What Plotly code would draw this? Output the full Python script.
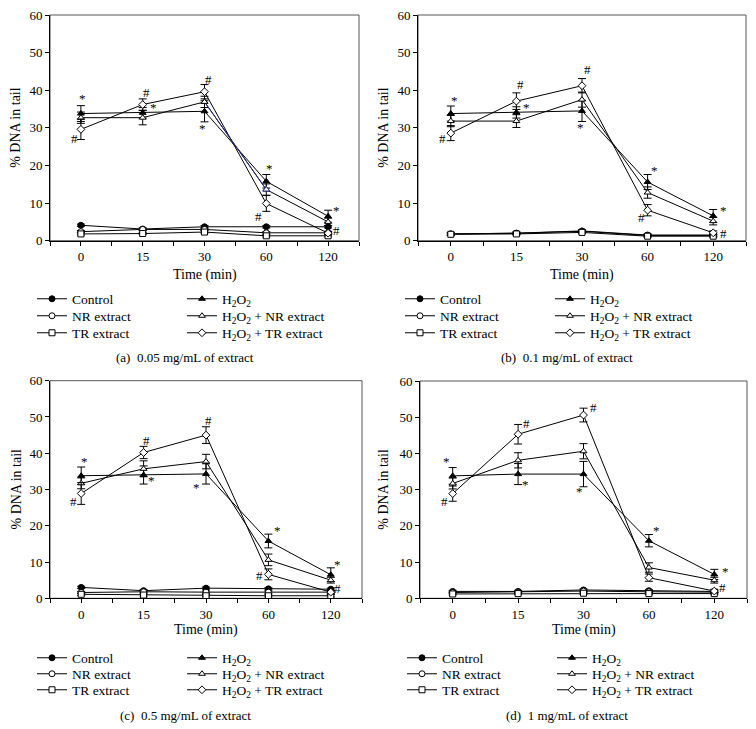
import plotly.graph_objects as go

# ---------------- data ----------------
TIME_LABELS = ["0", "15", "30", "60", "120"]
SERIES = ["Control", "NR extract", "TR extract",
          "H<sub>2</sub>O<sub>2</sub>",
          "H<sub>2</sub>O<sub>2</sub> + NR extract",
          "H<sub>2</sub>O<sub>2</sub> + TR extract"]
CAPTIONS = ["(a)  0.05 mg/mL of extract", "(b)  0.1 mg/mL of extract",
            "(c)  0.5 mg/mL of extract", "(d)  1 mg/mL of extract"]

# panel (a) 0.05 mg/mL
a_control = [4.1, 3.1, 3.7, 3.7, 3.7]
a_nr = [2.4, 3.0, 3.0, 2.1, 2.1]
a_tr = [1.8, 1.9, 2.3, 1.3, 1.3]
a_h2o2 = [33.8, 34.0, 34.4, 15.8, 6.5]
a_h2o2_nr = [32.7, 32.7, 36.9, 13.6, 5.0]
a_h2o2_tr = [29.6, 36.2, 39.6, 9.9, 2.0]
a_err_h2o2 = [2.1, 1.4, 2.8, 1.8, 1.6]
a_err_h2o2_nr = [1.5, 1.9, 1.5, 1.5, 1.0]
a_err_h2o2_tr = [2.7, 1.5, 1.9, 2.1, 0.5]

# panel (b) 0.1 mg/mL
b_control = [1.8, 2.0, 2.6, 1.5, 1.5]
b_nr = [1.8, 2.0, 2.5, 1.4, 1.4]
b_tr = [1.7, 1.8, 2.2, 1.2, 1.2]
b_h2o2 = [33.8, 34.1, 34.5, 15.6, 6.6]
b_h2o2_nr = [31.8, 31.8, 37.5, 12.8, 5.2]
b_h2o2_tr = [28.6, 37.1, 41.2, 8.1, 2.1]
b_err_h2o2 = [2.0, 1.5, 2.8, 2.0, 1.7]
b_err_h2o2_nr = [1.5, 1.7, 2.0, 1.5, 1.0]
b_err_h2o2_tr = [2.0, 2.2, 1.9, 1.5, 0.5]

# panel (c) 0.5 mg/mL
c_control = [3.0, 2.1, 2.8, 2.6, 2.5]
c_nr = [1.6, 1.8, 1.7, 1.7, 1.7]
c_tr = [1.1, 0.9, 0.7, 0.7, 0.7]
c_h2o2 = [33.8, 34.0, 34.3, 15.8, 6.5]
c_h2o2_nr = [31.7, 35.7, 37.7, 10.6, 5.0]
c_h2o2_tr = [28.9, 40.2, 45.0, 6.6, 1.7]
c_err_h2o2 = [2.4, 2.5, 2.8, 1.9, 1.9]
c_err_h2o2_nr = [1.5, 2.2, 2.0, 1.6, 0.8]
c_err_h2o2_tr = [3.0, 1.7, 2.3, 1.5, 0.5]

# panel (d) 1 mg/mL
d_control = [1.9, 1.9, 2.3, 2.1, 1.9]
d_nr = [1.6, 1.7, 2.0, 1.8, 1.7]
d_tr = [1.2, 1.3, 1.4, 1.3, 1.3]
d_h2o2 = [33.8, 34.3, 34.3, 15.9, 6.6]
d_h2o2_nr = [31.7, 38.1, 40.6, 8.5, 5.0]
d_h2o2_tr = [28.9, 45.3, 50.6, 5.7, 2.0]
d_err_h2o2 = [2.3, 2.9, 3.5, 1.7, 1.4]
d_err_h2o2_nr = [1.5, 2.1, 2.1, 1.3, 0.8]
d_err_h2o2_tr = [2.1, 2.7, 1.9, 1.0, 0.5]

LOW_ERR = [0.3, 0.3, 0.3, 0.3, 0.3]

# significance marks: (symbol, time index, y value)
a_marks = [("*", 0, 37.8), ("#", 0, 27.2), ("#", 1, 39.3), ("*", 1, 35.4), ("#", 2, 42.8),
           ("*", 2, 29.8), ("*", 3, 19.1), ("#", 3, 6.5), ("*", 4, 8.1), ("#", 4, 2.6)]
b_marks = [("*", 0, 37.3), ("#", 0, 27.3), ("#", 1, 41.5), ("*", 1, 35.5), ("#", 2, 45.5),
           ("*", 2, 30.1), ("*", 3, 18.6), ("#", 3, 6.2), ("*", 4, 8.1), ("#", 4, 1.9)]
c_marks = [("*", 0, 37.7), ("#", 0, 26.8), ("#", 1, 43.4), ("*", 1, 32.6), ("#", 2, 48.9),
           ("*", 2, 30.5), ("*", 3, 18.7), ("#", 3, 6.4), ("*", 4, 9.2), ("#", 4, 2.6)]
d_marks = [("*", 0, 37.7), ("#", 0, 26.7), ("#", 1, 48.3), ("*", 1, 31.3), ("#", 2, 52.6),
           ("*", 2, 29.4), ("*", 3, 18.7), ("*", 4, 7.5), ("#", 4, 2.9)]
# horizontal offsets (in category units) for each mark, same order as above
a_dx = [0.03, -0.11, 0.06, 0.17, 0.06, -0.04, 0.05, -0.13, 0.14, 0.14]
b_dx = [0.05, -0.13, 0.06, 0.15, 0.08, -0.03, 0.10, -0.10, 0.16, 0.16]
c_dx = [0.06, -0.13, 0.05, 0.12, 0.04, -0.15, 0.14, -0.14, 0.11, 0.11]
d_dx = [-0.09, -0.13, 0.13, 0.11, 0.15, -0.06, 0.11, 0.17, 0.13]

# ---------------- layout geometry ----------------
# the page body has an 8 px margin at top/left, so the figure is placed 8 px
# in and all window-pixel positions below are shifted by that margin.
WIN_W, WIN_H, PAD = 756, 729, 8
W, H = WIN_W - PAD, WIN_H - PAD
FONT = "Liberation Serif"


def px(x):
    return (x - PAD) / W


def py(y):
    return 1 - (y - PAD) / H


panels = [
    dict(data=[a_control, a_nr, a_tr, a_h2o2, a_h2o2_nr, a_h2o2_tr],
         err=[LOW_ERR, LOW_ERR, LOW_ERR, a_err_h2o2, a_err_h2o2_nr, a_err_h2o2_tr],
         marks=a_marks, dx=a_dx, box=(50, 359, 15, 240.7), ytitle_x=16,
         leg_x=32, rows=(299, 316, 333), cap=(185, 357), xt=275),
    dict(data=[b_control, b_nr, b_tr, b_h2o2, b_h2o2_nr, b_h2o2_tr],
         err=[LOW_ERR, LOW_ERR, LOW_ERR, b_err_h2o2, b_err_h2o2_nr, b_err_h2o2_tr],
         marks=b_marks, dx=b_dx, box=(418, 746, 15, 240.7), ytitle_x=384,
         leg_x=400, rows=(299, 316, 333), cap=(567, 357), xt=275),
    dict(data=[c_control, c_nr, c_tr, c_h2o2, c_h2o2_nr, c_h2o2_tr],
         err=[LOW_ERR, LOW_ERR, LOW_ERR, c_err_h2o2, c_err_h2o2_nr, c_err_h2o2_tr],
         marks=c_marks, dx=c_dx, box=(50, 362, 380.7, 598.3), ytitle_x=16,
         leg_x=32, rows=(658, 674, 690), cap=(185, 715), xt=630),
    dict(data=[d_control, d_nr, d_tr, d_h2o2, d_h2o2_nr, d_h2o2_tr],
         err=[LOW_ERR, LOW_ERR, LOW_ERR, d_err_h2o2, d_err_h2o2_nr, d_err_h2o2_tr],
         marks=d_marks, dx=d_dx, box=(420, 747, 381, 598.3), ytitle_x=384,
         leg_x=402, rows=(658, 674, 690), cap=(567, 715), xt=630),
]

symbols = ["circle", "circle", "square", "triangle-up", "triangle-up", "diamond"]
fills = ["black", "white", "white", "black", "white", "white"]

fig = go.Figure()
annotations = []
shapes = []
layout = dict(width=W, height=H, margin=dict(l=0, r=0, t=0, b=0, autoexpand=False),
              paper_bgcolor="white", plot_bgcolor="white", showlegend=True,
              font=dict(family=FONT, color="black"))

x_idx = list(range(len(TIME_LABELS)))

for p, P in enumerate(panels):
    k = "" if p == 0 else str(p + 1)
    xa, ya = "x" + k, "y" + k
    x0, x1, yt, yb = P["box"]
    layout["xaxis" + k] = dict(
        domain=[px(x0), px(x1)], range=[-0.5, 4.5], anchor=ya, automargin=False,
        tickmode="array", tickvals=x_idx, ticktext=TIME_LABELS,
        ticks="outside", ticklen=4, tickcolor="black", showline=True, linecolor="black",
        linewidth=1, showgrid=False, zeroline=False, ticklabeloverflow="allow",
        tickfont=dict(family=FONT, size=13, color="black"),
        minor=dict(tickvals=[i - 0.5 for i in range(len(TIME_LABELS) + 1)],
                   ticks="outside", ticklen=4, tickcolor="black"),
        fixedrange=True)
    layout["yaxis" + k] = dict(
        domain=[py(yb), py(yt)], range=[0, 60], anchor=xa, automargin=False,
        tickvals=[0, 10, 20, 30, 40, 50, 60], ticks="outside", ticklen=4,
        tickcolor="black", showline=True, linecolor="black", linewidth=1,
        showgrid=False, zeroline=False, ticklabeloverflow="allow",
        tickfont=dict(family=FONT, size=13, color="black"), fixedrange=True)
    # frame (top / right)
    shapes.append(dict(type="rect", xref=xa + " domain", yref=ya + " domain",
                       x0=0, x1=1, y0=0, y1=1, line=dict(color="#555", width=1),
                       layer="below"))
    # one horizontal legend per legend row (2 entries each)
    row_names = []
    for r, ry in enumerate(P["rows"]):
        n = p * 3 + r
        ln = "legend" if n == 0 else "legend" + str(n + 1)
        row_names.append(ln)
        layout[ln] = dict(x=px(P["leg_x"]), y=py(ry), xref="paper", yref="paper",
                          xanchor="left", yanchor="middle", orientation="h",
                          bgcolor="rgba(0,0,0,0)", entrywidth=105, entrywidthmode="pixels",
                          font=dict(family=FONT, size=13.5, color="black"),
                          itemwidth=30, borderwidth=0,
                          itemclick=False, itemdoubleclick=False)
    for s in range(6):
        fig.add_trace(go.Scatter(
            x=x_idx, y=P["data"][s], xaxis=xa, yaxis=ya, mode="lines+markers",
            name=SERIES[s], legend=row_names[s % 3],
            line=dict(color="black", width=1),
            marker=dict(symbol=symbols[s], size=6, color=fills[s],
                        line=dict(color="black", width=1)),
            error_y=dict(type="data", array=P["err"][s], visible=True,
                         color="black", thickness=1, width=4),
            showlegend=True))
    # significance marks
    for (sym, ti, yv), dx in zip(P["marks"], P["dx"]):
        annotations.append(dict(x=ti + dx, y=yv, xref=xa, yref=ya, text=sym,
                                xanchor="center", yanchor="middle",
                                showarrow=False, font=dict(family=FONT, size=13, color="black")))
    # axis titles
    annotations.append(dict(x=px(P["ytitle_x"]), y=py((yt + yb) / 2), xref="paper",
                            yref="paper", text="% DNA in tail", textangle=-90, showarrow=False,
                            xanchor="center", yanchor="middle",
                            font=dict(family=FONT, size=14, color="black")))
    annotations.append(dict(x=px((x0 + x1) / 2), y=py(P["xt"]), xref="paper",
                            yref="paper", text="Time (min)", showarrow=False,
                            xanchor="center", yanchor="middle",
                            font=dict(family=FONT, size=14, color="black")))
    annotations.append(dict(x=px(P["cap"][0]), y=py(P["cap"][1]), xref="paper",
                            yref="paper", text=CAPTIONS[p], showarrow=False,
                            xanchor="center", yanchor="middle",
                            font=dict(family=FONT, size=13, color="black")))

# blue-tinted segment of H2O2 + NR extract in panel (a) (30 -> 60 min)
fig.add_trace(go.Scatter(
    x=x_idx[2:4], y=a_h2o2_nr[2:4], xaxis="x", yaxis="y", mode="lines+markers",
    line=dict(color="#2a2a8c", width=1), showlegend=False,
    marker=dict(symbol="triangle-up", size=6,
                color=["white", "white"], line=dict(color=["black", "#2a2a8c"], width=1))))

layout["annotations"] = annotations
layout["shapes"] = shapes
fig.update_layout(**layout)
fig.write_html("out.html")
